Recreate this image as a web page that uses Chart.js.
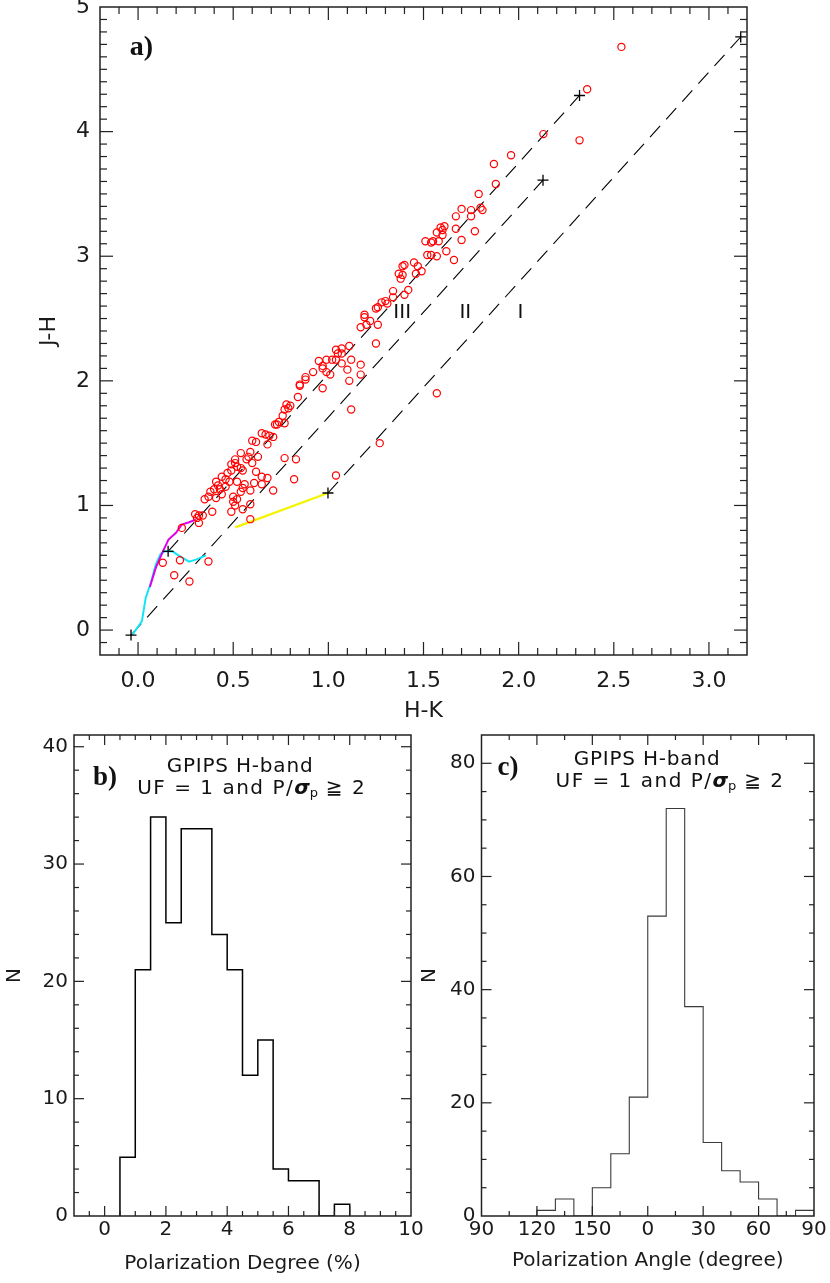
<!DOCTYPE html>
<html>
<head>
<meta charset="utf-8">
<script src="https://cdn.jsdelivr.net/npm/chart.js@4.4.1/dist/chart.umd.min.js"></script>
<style>
  body { margin: 0; background: #fff; }
  #wrap { position: relative; width: 830px; height: 1283px; }
  .panel { position: absolute; }
</style>
</head>
<body>
<div id="wrap">
  <div class="panel" style="left:0;top:0;width:830px;height:730px"><canvas id="ccd"></canvas></div>
  <div class="panel" style="left:0;top:700px;width:440px;height:583px"><canvas id="degree"></canvas></div>
  <div class="panel" style="left:415px;top:700px;width:415px;height:583px"><canvas id="angle"></canvas></div>
</div>
<script>
// a) colour-colour diagram: stars (H-K, J-H)
const starHK = [
  1.96, 1.87, 1.88, 1.79, 1.70, 1.75, 1.80, 1.81, 1.67, 1.75,
  1.59, 1.61, 1.60, 1.57, 1.67, 1.60, 1.77, 1.51, 1.55, 1.58,
  1.54, 1.70, 1.52, 1.54, 1.57, 1.62, 1.66, 1.45, 1.40, 1.39,
  1.47, 1.37, 1.39, 1.46, 1.49, 1.38, 1.34, 1.42, 1.40, 1.34,
  1.28, 1.30, 1.31, 1.25, 1.26, 1.19, 1.19, 1.22, 1.20, 1.17,
  1.26, 1.25, 1.11, 1.07, 1.04, 1.05, 1.12, 1.07, 1.02, 0.99,
  0.95, 1.04, 1.07, 1.17, 0.97, 0.97, 1.10, 0.99, 1.01, 1.17,
  1.11, 0.92, 0.88, 0.88, 0.85, 0.85, 0.97, 0.84, 1.12, 1.57,
  0.78, 0.80, 0.79, 0.77, 0.76, 0.72, 0.74, 0.77, 0.73, 0.65,
  0.67, 0.69, 0.71, 0.60, 0.62, 0.68, 1.27, 2.54, 2.36, 2.13,
  2.32, 0.54, 0.59, 0.58, 0.63, 0.51, 0.57, 0.60, 0.49, 0.51,
  0.52, 0.54, 0.55, 0.49, 0.47, 0.62, 0.65, 0.68, 0.44, 0.46,
  0.48, 0.52, 0.56, 0.61, 0.65, 0.41, 0.42, 0.46, 0.55, 0.43,
  0.40, 0.38, 0.54, 0.59, 0.71, 0.82, 0.83, 0.77, 0.44, 0.41,
  0.37, 0.35, 0.50, 0.52, 0.50, 0.51, 0.55, 0.59, 0.39, 0.49,
  0.59, 0.30, 0.32, 0.34, 0.31, 0.32, 0.23, 0.13, 0.22, 0.37,
  0.19, 0.27, 1.04
];
const starJH = [
  3.81, 3.74, 3.58, 3.50, 3.38, 3.37, 3.39, 3.37, 3.32, 3.32,
  3.23, 3.24, 3.21, 3.19, 3.22, 3.17, 3.20, 3.12, 3.12, 3.12,
  3.11, 3.13, 3.01, 3.01, 3.00, 3.04, 2.97, 2.95, 2.93, 2.92,
  2.92, 2.86, 2.85, 2.86, 2.88, 2.82, 2.72, 2.73, 2.69, 2.67,
  2.63, 2.64, 2.62, 2.58, 2.59, 2.53, 2.51, 2.48, 2.45, 2.43,
  2.45, 2.30, 2.28, 2.26, 2.25, 2.22, 2.17, 2.22, 2.17, 2.17,
  2.16, 2.17, 2.14, 2.13, 2.12, 2.10, 2.09, 2.07, 2.05, 2.05,
  2.00, 2.07, 2.03, 2.01, 1.97, 1.96, 1.94, 1.87, 1.77, 1.90,
  1.81, 1.80, 1.78, 1.77, 1.72, 1.65, 1.67, 1.66, 1.65, 1.58,
  1.57, 1.56, 1.55, 1.52, 1.51, 1.49, 1.50, 4.68, 4.34, 3.98,
  3.93, 1.42, 1.43, 1.39, 1.39, 1.37, 1.37, 1.34, 1.33, 1.34,
  1.31, 1.30, 1.28, 1.28, 1.26, 1.27, 1.23, 1.22, 1.23, 1.21,
  1.19, 1.19, 1.17, 1.18, 1.17, 1.19, 1.16, 1.15, 1.14, 1.13,
  1.13, 1.11, 1.11, 1.12, 1.12, 1.21, 1.37, 1.38, 1.09, 1.06,
  1.07, 1.05, 1.07, 1.05, 1.03, 1.00, 0.97, 1.01, 0.95, 0.95,
  0.89, 0.93, 0.92, 0.92, 0.90, 0.86, 0.82, 0.54, 0.56, 0.55,
  0.44, 0.39, 1.24
];

// reddening vectors I, II, III (start and end points)
const bandNames = ['I', 'II', 'III'];
const bandStartHK = [0.998, -0.037, 0.158];
const bandStartJH = [1.10, -0.04, 0.632];
const bandEndHK = [3.167, 2.128, 2.32];
const bandEndJH = [4.76, 3.61, 4.29];

// intrinsic loci
const dwarfHK = [-0.03, 0.02, 0.04, 0.067, 0.093, 0.119, 0.14, 0.18, 0.225, 0.268, 0.304, 0.357];
const dwarfJH = [-0.036, 0.07, 0.258, 0.378, 0.525, 0.613, 0.632, 0.632, 0.587, 0.549, 0.565, 0.60];
const giantHK = [0.062, 0.093, 0.133, 0.16, 0.198, 0.23, 0.268, 0.304];
const giantJH = [0.346, 0.499, 0.64, 0.726, 0.779, 0.846, 0.865, 0.886];
const ttauriHK = [0.511, 0.998];
const ttauriJH = [0.824, 1.10];

const hkTicks = [0, 0.5, 1, 1.5, 2, 2.5, 3];
const hkTickLabels = ['0.0', '0.5', '1.0', '1.5', '2.0', '2.5', '3.0'];
const jhTicks = [0, 1, 2, 3, 4, 5];
const jhTickLabels = ['0', '1', '2', '3', '4', '5'];

// b) polarization degree histogram (bin edges in %, counts)
const degreeEdges = [0.5, 1.0, 1.5, 2.0, 2.5, 3.0, 3.5, 4.0, 4.5, 5.0, 5.5, 6.0, 6.5, 7.0, 7.5, 8.0];
const degreeCounts = [5, 21, 34, 25, 33, 33, 24, 21, 12, 15, 4, 3, 3, 0, 1];
const degreeTicks = [0, 2, 4, 6, 8, 10];
const degreeTickLabels = ['0', '2', '4', '6', '8', '10'];
const degreeNTicks = [0, 10, 20, 30, 40];

// c) polarization angle histogram (bin edges in degree, counts)
const angleEdges = [-60, -50, -40, -30, -20, -10, 0, 10, 20, 30, 40, 50, 60, 70, 80, 90];
const angleCounts = [1, 3, 0, 5, 11, 21, 53, 72, 37, 13, 8, 6, 3, 0, 1];
const angleTicks = [-90, -60, -30, 0, 30, 60, 90];
const angleTickLabels = ['90', '120', '150', '0', '30', '60', '90'];
const angleNTicks = [0, 20, 40, 60, 80];

Chart.defaults.font.family = "'DejaVu Sans', sans-serif";
Chart.defaults.color = '#1a1a1a';
Chart.defaults.animation = false;
Chart.defaults.plugins.legend.display = false;
Chart.defaults.plugins.tooltip.enabled = false;

const SANS = "'DejaVu Sans', sans-serif";
const SERIF = "'Liberation Serif', 'Times New Roman', serif";

function pairs(xs, ys) {
  return xs.map((x, i) => ({ x: x, y: ys[i] }));
}

function stepPoints(edges, counts) {
  const pts = [{ x: edges[0], y: 0 }];
  counts.forEach((c, i) => pts.push({ x: edges[i], y: c }));
  pts.push({ x: edges[edges.length - 1], y: 0 });
  return pts;
}

// values of the small tick marks between lo and hi, flagged when they sit on a labelled tick
function tickMarks(lo, hi, majors, step) {
  const out = [];
  const count = Math.round((hi - lo) / step);
  const first = Math.ceil(lo / step - 1e-6) * step;
  for (let i = 0; i <= count + 1; i++) {
    const v = Math.round((first + i * step) * 1e6) / 1e6;
    if (v <= lo + 1e-9 || v >= hi - 1e-9) continue;
    out.push({ v: v, major: majors.indexOf(v) >= 0 });
  }
  return out;
}

// box frame with inward ticks on all four sides, plus the text annotations
function panelPlugin(cfg, items) {
  return {
    id: 'panel' + cfg.name,
    afterDraw(chart) {
      const ctx = chart.ctx;
      const a = chart.chartArea;
      const xs = chart.scales.x, ys = chart.scales.y;
      ctx.save();
      ctx.fillStyle = '#222222';
      tickMarks(cfg.xRange[0], cfg.xRange[1], cfg.xMajor, cfg.xMinor).forEach(t => {
        const px = xs.getPixelForValue(t.v);
        const len = t.major ? cfg.majorLen : cfg.minorLen;
        ctx.fillRect(px - 0.6, a.bottom - len, 1.2, len);
        ctx.fillRect(px - 0.6, a.top, 1.2, len);
      });
      tickMarks(cfg.yRange[0], cfg.yRange[1], cfg.yMajor, cfg.yMinor).forEach(t => {
        const py = ys.getPixelForValue(t.v);
        const len = t.major ? cfg.majorLen : cfg.minorLen;
        ctx.fillRect(a.left, py - 0.6, len, 1.2);
        ctx.fillRect(a.right - len, py - 0.6, len, 1.2);
      });
      ctx.strokeStyle = '#222222';
      ctx.lineWidth = 1.5;
      ctx.strokeRect(a.left, a.top, a.right - a.left, a.bottom - a.top);
      ctx.restore();

      for (const n of items) {
        const cx = n.data ? xs.getPixelForValue(n.data[0]) : a.left + n.at[0];
        const cy = n.data ? ys.getPixelForValue(n.data[1]) : a.top + n.at[1];
        ctx.save();
        ctx.textBaseline = 'middle';
        ctx.fillStyle = '#111';
        const widths = n.runs.map(r => {
          ctx.font = r.font;
          ctx.letterSpacing = r.spacing || '0px';
          return ctx.measureText(r.text).width;
        });
        let px = cx - widths.reduce((s, w) => s + w, 0) / 2;
        n.runs.forEach((r, i) => {
          ctx.font = r.font;
          ctx.letterSpacing = r.spacing || '0px';
          ctx.fillText(r.text, px, cy + (r.dy || 0));
          px += widths[i];
        });
        ctx.restore();
      }
    }
  };
}

function linearAxis(min, max, ticks, labels, size, pad, fontSize, title, titlePad, horizontal) {
  return {
    type: 'linear',
    min: min,
    max: max,
    grid: { display: false, drawTicks: false },
    border: { display: false },
    ticks: {
      autoSkip: false, maxRotation: 0, padding: pad,
      font: { size: fontSize },
      callback: (v, i) => labels[i]
    },
    title: { display: true, text: title, font: { size: fontSize }, padding: titlePad },
    afterBuildTicks: s => { s.ticks = ticks.map(v => ({ value: v })); },
    afterFit: s => {
      if (horizontal) { s.height = size; s.paddingLeft = 0; s.paddingRight = 0; }
      else { s.width = size; s.paddingTop = 0; s.paddingBottom = 0; }
    }
  };
}

const subtitle = (cx, cy1, cy2) => [
  { at: [cx[0], cy1], runs: [{ text: 'GPIPS H-band', font: '20px ' + SANS, spacing: '0.8px' }] },
  { at: [cx[1], cy2], runs: [
    { text: 'UF = 1 and P/', font: '20px ' + SANS, spacing: '1.5px' },
    { text: 'σ', font: 'bold italic 20px ' + SANS },
    { text: 'p', font: '13px ' + SANS, dy: 5 },
    { text: ' ≧ 2', font: '20px ' + SANS, spacing: '1.5px' }
  ] }
];

// ---- a) J-H vs H-K
const bandLines = bandNames.map((name, i) => ({
  label: 'Band ' + name,
  data: [{ x: bandStartHK[i], y: bandStartJH[i] }, { x: bandEndHK[i], y: bandEndJH[i] }],
  showLine: true, borderColor: '#000', borderWidth: 1.1, borderDash: [15, 9],
  pointRadius: 0
}));

new Chart(document.getElementById('ccd'), {
  type: 'scatter',
  data: {
    datasets: [
      {
        label: 'Vector ends',
        data: pairs(bandStartHK.concat(bandEndHK), bandStartJH.concat(bandEndJH)),
        pointStyle: 'cross', pointRadius: 5.5, borderColor: '#000', borderWidth: 1.3
      },
      {
        label: 'Stars',
        data: pairs(starHK, starJH),
        pointStyle: 'circle', pointRadius: 3.6, borderWidth: 1.2,
        borderColor: '#ff0000', backgroundColor: 'rgba(0,0,0,0)'
      },
      {
        label: 'Giant branch',
        data: pairs(giantHK, giantJH),
        showLine: true, borderColor: '#e000e8', borderWidth: 2, pointRadius: 0
      },
      {
        label: 'Dwarf locus',
        data: pairs(dwarfHK, dwarfJH),
        showLine: true, borderColor: '#12e6f6', borderWidth: 2, pointRadius: 0
      },
      {
        label: 'CTTS locus',
        data: pairs(ttauriHK, ttauriJH),
        showLine: true, borderColor: '#f4f400', borderWidth: 2.2, pointRadius: 0
      }
    ].concat(bandLines)
  },
  options: {
    responsive: true,
    maintainAspectRatio: false,
    events: [],
    layout: { padding: { left: 0, top: 7, right: 83, bottom: 0 } },
    scales: {
      x: linearAxis(-0.2, 3.2, hkTicks, hkTickLabels, 75, 13, 22, 'H-K', { top: 0, bottom: 6 }, true),
      y: linearAxis(-0.2, 5, jhTicks, jhTickLabels, 100, 10, 22, 'J-H', { top: 36, bottom: 0 }, false)
    }
  },
  plugins: [
    panelPlugin({ name: 'A', xRange: [-0.2, 3.2], yRange: [-0.2, 5],
      xMajor: hkTicks, xMinor: 0.1, yMajor: jhTicks, yMinor: 0.1, majorLen: 13, minorLen: 7 }, [
      { data: [2.01, 2.55], runs: [{ text: 'I', font: '20px ' + SANS }] },
      { data: [1.72, 2.55], runs: [{ text: 'II', font: '20px ' + SANS }] },
      { data: [1.388, 2.55], runs: [{ text: 'III', font: '20px ' + SANS }] },
      { at: [41.5, 41], runs: [{ text: 'a)', font: 'bold 28px ' + SERIF }] }
    ])
  ]
});

// ---- b) polarization degree
new Chart(document.getElementById('degree'), {
  type: 'scatter',
  data: {
    datasets: [{
      label: 'N',
      data: stepPoints(degreeEdges, degreeCounts),
      showLine: true, stepped: true, borderColor: '#000', borderWidth: 1.5, pointRadius: 0
    }]
  },
  options: {
    responsive: true,
    maintainAspectRatio: false,
    events: [],
    layout: { padding: { left: 0, top: 35, right: 29, bottom: 0 } },
    scales: {
      x: linearAxis(-1, 10, degreeTicks, degreeTickLabels, 67, 2, 20, 'Polarization Degree (%)', { top: 0, bottom: 7 }, true),
      y: linearAxis(0, 41, degreeNTicks, degreeNTicks.map(String), 74, 6, 20, 'N', { top: 3, bottom: 0 }, false)
    }
  },
  plugins: [
    panelPlugin({ name: 'B', xRange: [-1, 10], yRange: [0, 41],
      xMajor: degreeTicks, xMinor: 0.5, yMajor: degreeNTicks, yMinor: 2, majorLen: 10, minorLen: 5 },
      [{ at: [31, 43], runs: [{ text: 'b)', font: 'bold 27px ' + SERIF }] }]
        .concat(subtitle([166, 177.7], 31.7, 54)))
  ]
});

// ---- c) polarization angle
new Chart(document.getElementById('angle'), {
  type: 'scatter',
  data: {
    datasets: [{
      label: 'N',
      data: stepPoints(angleEdges, angleCounts),
      showLine: true, stepped: true, borderColor: '#3a3a3a', borderWidth: 1.1, pointRadius: 0
    }]
  },
  options: {
    responsive: true,
    maintainAspectRatio: false,
    events: [],
    layout: { padding: { left: 0, top: 35, right: 16, bottom: 0 } },
    scales: {
      x: linearAxis(-90, 90, angleTicks, angleTickLabels, 67, 2, 20, 'Polarization Angle (degree)', { top: 0, bottom: 10 }, true),
      y: linearAxis(0, 85, angleNTicks, angleNTicks.map(String), 66.5, 6, 20, 'N', { top: 3, bottom: 0 }, false)
    }
  },
  plugins: [
    panelPlugin({ name: 'C', xRange: [-90, 90], yRange: [0, 85],
      xMajor: angleTicks, xMinor: 15, yMajor: angleNTicks, yMinor: 5, majorLen: 10, minorLen: 5 },
      [{ at: [26.5, 33], runs: [{ text: 'c)', font: 'bold 27px ' + SERIF }] }]
        .concat(subtitle([165.5, 188.5], 25, 47)))
  ]
});
</script>
</body>
</html>
